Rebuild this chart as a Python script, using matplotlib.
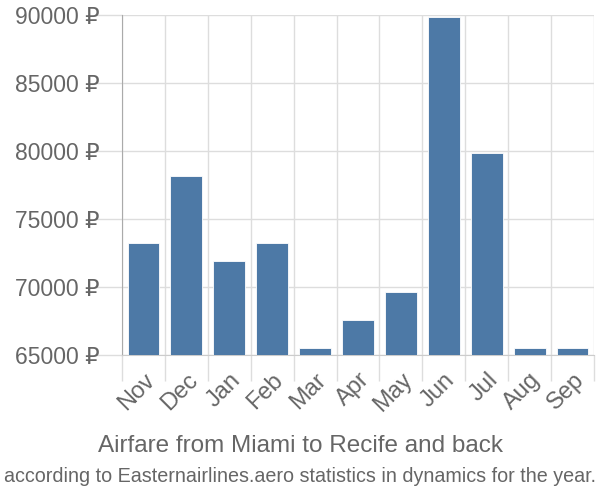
import matplotlib

matplotlib.use("Agg")

import matplotlib.pyplot as plt
import numpy as np

months = ["Nov", "Dec", "Jan", "Feb", "Mar", "Apr", "May", "Jun", "Jul", "Aug", "Sep"]
prices = [73200, 78150, 71900, 73200, 65500, 67600, 69600, 89850, 79850, 65500, 65500]
y_ticks = [65000, 70000, 75000, 80000, 85000, 90000]

plt.rcParams["font.family"] = ["Liberation Sans", "DejaVu Sans"]

GRID = "#dddddd"
TEXT = "#666666"
BAR = "#4d79a6"

fig = plt.figure(figsize=(6, 5), dpi=100)
ax = fig.add_axes([122 / 600, 1 - 355 / 500, 472 / 600, 340 / 500])

x = np.arange(len(months))
ax.bar(x, [p - 65000 for p in prices], bottom=65000, width=0.74, color=BAR,
       edgecolor="white", linewidth=0.6, zorder=3)

ax.set_xlim(-0.5, len(months) - 0.5)
ax.set_ylim(65000, 90000)

ax.set_yticks(y_ticks)
ax.set_yticklabels([f"{v} ₽" for v in y_ticks], fontsize=16.5, color=TEXT)
ax.set_xticks(x)
ax.set_xticklabels(months, rotation=45, ha="right", rotation_mode="anchor",
                   fontsize=17, color=TEXT)
ax.tick_params(axis="x", length=0, pad=10)
ax.tick_params(axis="y", length=19, color=GRID, width=1, pad=-3)

# category boundaries: grid lines that extend below the axis as ticks
ax.set_xticks(np.arange(-0.5, len(months)), minor=True)
ax.tick_params(axis="x", which="minor", length=19, color=GRID, width=1)
ax.grid(True, which="minor", axis="x", color=GRID, linewidth=1, zorder=0)
ax.grid(True, which="major", axis="y", color=GRID, linewidth=1, zorder=0)

for side in ["top", "right"]:
    ax.spines[side].set_visible(False)
ax.spines["left"].set_color("#aaaaaa")
ax.spines["bottom"].set_color("#cccccc")

fig.text(0.5, 1 - 446 / 500, "Airfare from Miami to Recife and back",
         ha="center", va="center", fontsize=17.5, color=TEXT)
fig.text(0.5, 1 - 476 / 500,
         "according to Easternairlines.aero statistics in dynamics for the year.",
         ha="center", va="center", fontsize=14.2, color=TEXT)

fig.savefig("out.png", dpi=100)
